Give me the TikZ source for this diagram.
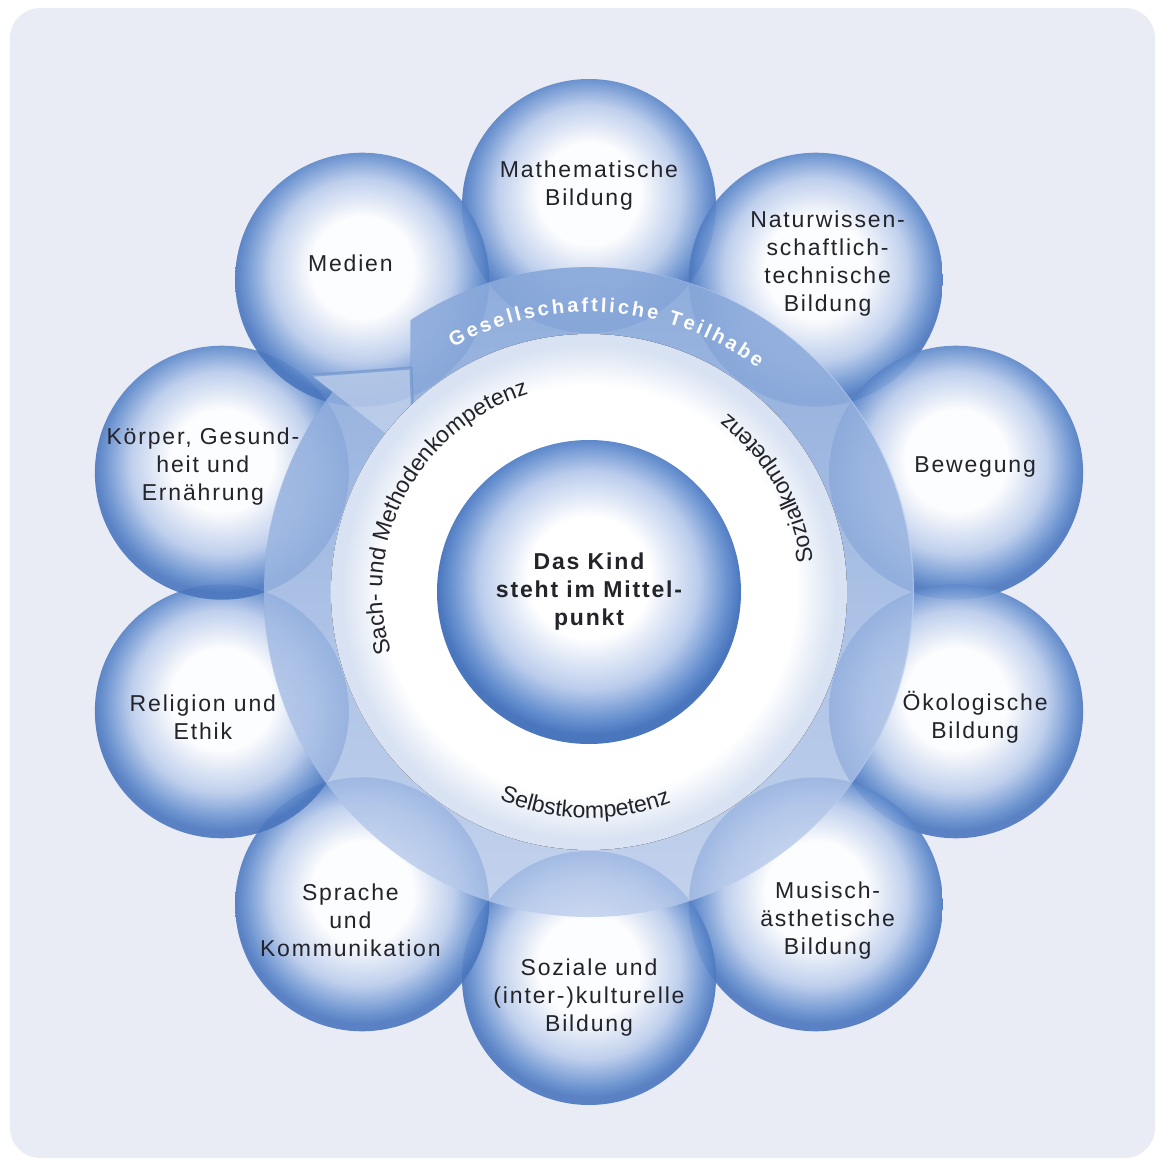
\documentclass[tikz,border=0pt]{standalone}
\usepackage{fontspec}
\setmainfont{Liberation Sans}
\newfontfamily\areafont{Liberation Sans}[LetterSpace=8]
\usetikzlibrary{decorations.text,fadings}

\definecolor{bggrey}{RGB}{233,236,245}
\definecolor{bubbledark}{RGB}{74,118,190}
\definecolor{bubbleedge}{RGB}{100,142,206}
\definecolor{bubblemid}{RGB}{186,204,236}
\definecolor{bandveil}{RGB}{190,207,238}
\definecolor{bandtop}{RGB}{120,156,212}
\definecolor{bandline}{RGB}{112,148,206}
\definecolor{ringedge}{RGB}{216,226,242}
\definecolor{textgrey}{RGB}{35,35,42}

% sphere look of the bubbles
\pgfdeclareradialshading{bubble}{\pgfpoint{0bp}{3bp}}{%
  color(0bp)=(white); color(10bp)=(white); color(18bp)=(bubblemid);
  color(23bp)=(bubbleedge); color(25bp)=(bubbledark); color(50bp)=(bubbledark)}
\pgfdeclareradialshading{ringshade}{\pgfpoint{0bp}{0bp}}{%
  color(0bp)=(white); color(20bp)=(white); color(24bp)=(ringedge);
  color(25bp)=(ringedge); color(50bp)=(ringedge)}

\newcommand\ringfont{\fontsize{23}{27}\selectfont\color{textgrey}}
\newcommand\bandfont{\fontsize{20}{24}\selectfont\bfseries\color{white}}

% outline of the band with its arrow head
\newcommand\bandoutline{(123.2:325) arc[start angle=123.2,end angle=-218,radius=325]
    -- (142:352) -- (tip) -- (142:222) -- (-218:258)
    arc[start angle=-218,end angle=133.6,radius=258] -- cycle}

% angle/name/text of the ten areas
\newcommand\bereiche{90/math/{Mathematische\\Bildung},
  54/natur/{Naturwissen-\\schaftlich-\\technische\\Bildung},
  18/beweg/{Bewegung},
  -18/oeko/{Ökologische\\Bildung},
  -54/musik/{Musisch-\\ästhetische\\Bildung},
  -90/sozial/{Soziale und\\(inter-)kulturelle\\Bildung},
  -126/sprache/{Sprache\\und\\Kommunikation},
  -162/religion/{Religion und\\Ethik},
  162/koerper/{Körper, Gesund-\\heit und\\Ernährung},
  126/medien/{Medien}}

\begin{document}
\begin{tikzpicture}[x=1pt,y=1pt,
    bubble/.style={circle,minimum size=254pt,inner sep=0pt,shade,shading=bubble,fill opacity=.9},
    kind/.style={circle,minimum size=304pt,inner sep=0pt,shade,shading=bubble,
      text=textgrey,font=\areafont\fontsize{23}{28}\selectfont\bfseries,align=center},
    area/.style={text=textgrey,font=\areafont\fontsize{23}{28}\selectfont,align=center}]
  \useasboundingbox (-589,-570) rectangle (571,592);
  % background card
  \fill[bggrey,rounded corners=30] (-579,-566) rectangle (566,584);

  % the ten bubbles
  \foreach \a/\n/\t in \bereiche
    \node[bubble] (b-\n) at (\a:386) {};

  % Gesellschaftliche Teilhabe, clockwise arrow
  \coordinate (tip) at (-178,224);
  \fill[bandveil,fill opacity=.75] \bandoutline;
  \fill[bandtop,fill opacity=.75,path fading=south] \bandoutline;
  \fill[white,fill opacity=.3] (142:352) -- (tip) -- (142:222) -- cycle;
  \draw[bandline,line width=3pt,opacity=.7] (142:352) -- (tip) -- (142:222);

  % white ring and centre
  \fill[shade,shading=ringshade] (0,0) circle (258);
  \node[kind] (kind) at (0,0) {Das Kind\\steht im Mittel-\\punkt};

  % labels of the areas
  \foreach \a/\n/\t in \bereiche
    \node[area] (t-\n) at (\a:406) {\t};

  % texts on the rings
  \path[decorate,decoration={text along path,text align=fit to path,
      text={|\bandfont|Gesellschaftliche Teilhabe}}]
    (119:280) arc[start angle=119,end angle=53,radius=280];
  \path[decorate,decoration={text along path,text align=center,
      text={|\ringfont|Sach- und Methodenkompetenz}}]
    (202:207) arc[start angle=202,end angle=102,radius=207];
  \path[decorate,decoration={text along path,text align=center,
      text={|\ringfont|Sozialkompetenz}}]
    (5:226) arc[start angle=5,end angle=55,radius=226];
  \path[decorate,decoration={text along path,text align=center,
      text={|\ringfont|Selbstkompetenz}}]
    (239:226) arc[start angle=239,end angle=299,radius=226];
\end{tikzpicture}
\end{document}
